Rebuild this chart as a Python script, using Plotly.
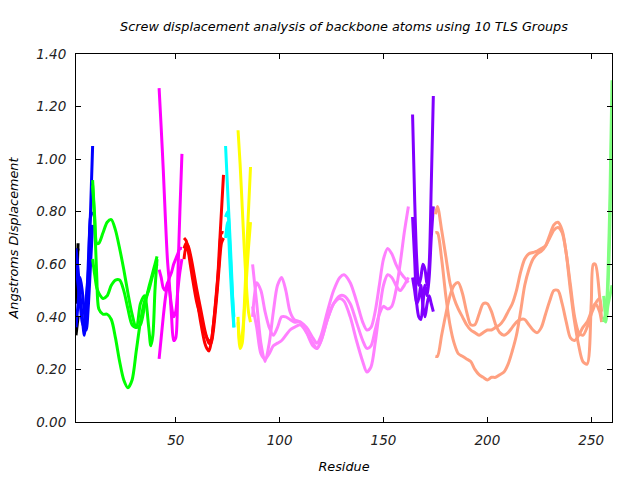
import plotly.graph_objects as go

# residue numbers and screw displacement (A) for each TLS group, three curves per group
black_res = [2, 3]
black_a = [0.62, 0.66]
black_b = [0.33, 0.40]
black_c = [0.45, 0.68]

blue_res = [2, 3, 4, 5, 6, 7, 8, 9, 10]
blue_a = [0.66, 0.58, 0.48, 0.40, 0.33, 0.42, 0.62, 0.80, 1.05]
blue_b = [0.60, 0.52, 0.45, 0.38, 0.36, 0.48, 0.58, 0.78, 0.80]
blue_c = [0.36, 0.45, 0.55, 0.50, 0.42, 0.35, 0.45, 0.60, 0.75]

green_res = [10, 11, 12, 13, 15, 17, 19, 21, 23, 25, 27, 29, 31, 33, 35, 37, 38, 39, 40, 41]
green_a = [0.92, 0.78, 0.68, 0.68, 0.72, 0.76, 0.77, 0.73, 0.66, 0.58, 0.49, 0.41, 0.36, 0.37,
           0.44, 0.51, 0.54, 0.57, 0.60, 0.63]
green_b = [0.62, 0.56, 0.51, 0.49, 0.47, 0.48, 0.52, 0.54, 0.54, 0.50, 0.43, 0.37, 0.36, 0.45,
           0.48, 0.36, 0.29, 0.33, 0.50, 0.62]
green_c = [0.90, 0.76, 0.55, 0.43, 0.41, 0.41, 0.39, 0.32, 0.23, 0.16, 0.13, 0.16, 0.27, 0.38,
           0.46, 0.50, 0.53, 0.56, 0.58, 0.60]

magenta_res = [42, 43, 44, 45, 46, 47, 48, 49, 50, 51, 52, 53]
magenta_a = [1.27, 1.12, 0.96, 0.78, 0.62, 0.52, 0.40, 0.31, 0.32, 0.55, 0.80, 1.02]
magenta_b = [0.24, 0.32, 0.40, 0.47, 0.52, 0.55, 0.57, 0.60, 0.62, 0.64, 0.66, 0.66]
magenta_c = [0.58, 0.55, 0.51, 0.50, 0.53, 0.50, 0.44, 0.40, 0.42, 0.50, 0.57, 0.62]

red_res = [54, 55, 56, 57, 58, 60, 62, 64, 65, 66, 67, 68, 70, 71, 72, 73]
red_a = [0.70, 0.69, 0.66, 0.62, 0.58, 0.48, 0.38, 0.30, 0.28, 0.27, 0.30, 0.36, 0.52, 0.66, 0.80, 0.94]
red_b = [0.62, 0.67, 0.65, 0.60, 0.55, 0.46, 0.40, 0.34, 0.32, 0.31, 0.31, 0.36, 0.53, 0.62, 0.72, 0.72]
red_c = [0.66, 0.68, 0.67, 0.64, 0.60, 0.51, 0.43, 0.35, 0.32, 0.30, 0.30, 0.34, 0.50, 0.60, 0.68, 0.70]

cyan_res = [74, 75, 76, 77, 78]
cyan_a = [1.05, 0.88, 0.72, 0.55, 0.36]
cyan_b = [0.78, 0.80, 0.68, 0.52, 0.40]
cyan_c = [0.70, 0.76, 0.62, 0.47, 0.36]

yellow_res = [80, 81, 82, 83, 84, 85, 86]
yellow_a = [1.11, 0.98, 0.82, 0.66, 0.52, 0.42, 0.38]
yellow_b = [0.40, 0.28, 0.30, 0.44, 0.62, 0.80, 0.97]
yellow_c = [0.38, 0.30, 0.33, 0.42, 0.54, 0.66, 0.76]

pink_res = [87, 89, 91, 93, 95, 97, 99, 101, 103, 105, 107, 110, 113, 116, 118, 120, 123, 126,
            129, 131, 134, 137, 140, 142, 144, 146, 148, 150, 152, 154, 156, 158, 160, 162]
pink_a = [0.60, 0.45, 0.30, 0.23, 0.30, 0.42, 0.52, 0.55, 0.50, 0.42, 0.39, 0.38, 0.36, 0.32,
          0.30, 0.33, 0.42, 0.50, 0.55, 0.56, 0.53, 0.46, 0.38, 0.35, 0.36, 0.42, 0.52, 0.62,
          0.66, 0.64, 0.60, 0.57, 0.55, 0.53]
pink_b = [0.40, 0.53, 0.50, 0.42, 0.36, 0.33, 0.36, 0.40, 0.40, 0.39, 0.38, 0.38, 0.34, 0.29,
          0.28, 0.31, 0.39, 0.45, 0.48, 0.48, 0.45, 0.38, 0.31, 0.28, 0.29, 0.35, 0.41, 0.44,
          0.43, 0.44, 0.50, 0.60, 0.72, 0.82]
pink_c = [0.44, 0.36, 0.26, 0.24, 0.26, 0.29, 0.30, 0.31, 0.33, 0.35, 0.36, 0.37, 0.34, 0.30,
          0.28, 0.31, 0.39, 0.45, 0.47, 0.46, 0.40, 0.31, 0.23, 0.19, 0.21, 0.30, 0.42, 0.52,
          0.56, 0.55, 0.52, 0.50, 0.52, 0.55]

purple_res = [164, 165, 166, 167, 168, 169, 170, 171, 172, 173, 174]
purple_a = [1.17, 0.85, 0.62, 0.52, 0.55, 0.60, 0.58, 0.52, 0.60, 0.90, 1.24]
purple_b = [0.78, 0.62, 0.45, 0.40, 0.39, 0.45, 0.52, 0.48, 0.55, 0.70, 0.82]
purple_c = [0.55, 0.50, 0.45, 0.47, 0.52, 0.44, 0.40, 0.45, 0.48, 0.45, 0.42]

salmon_res = [175, 176, 178, 180, 182, 184, 186, 188, 190, 192, 194, 196, 198, 200, 202, 204,
              206, 208, 210, 212, 214, 216, 218, 220, 222, 224, 226, 228, 230, 232, 234, 236,
              238, 240, 242, 244, 246, 248, 250, 251, 252, 254, 255]
salmon_a = [0.79, 0.82, 0.73, 0.63, 0.53, 0.47, 0.43, 0.40, 0.37, 0.35, 0.34, 0.33, 0.34, 0.35,
            0.35, 0.36, 0.37, 0.39, 0.42, 0.45, 0.50, 0.57, 0.62, 0.64, 0.645, 0.65, 0.66, 0.67,
            0.70, 0.73, 0.74, 0.72, 0.64, 0.52, 0.40, 0.34, 0.33, 0.36, 0.41, 0.43, 0.45, 0.47, 0.42]
salmon_b = [0.72, 0.72, 0.62, 0.48, 0.37, 0.30, 0.26, 0.25, 0.24, 0.23, 0.20, 0.18, 0.17, 0.16,
            0.17, 0.17, 0.18, 0.19, 0.22, 0.27, 0.33, 0.42, 0.52, 0.58, 0.62, 0.64, 0.65, 0.67,
            0.71, 0.75, 0.76, 0.73, 0.64, 0.50, 0.38, 0.29, 0.23, 0.22, 0.45, 0.60, 0.60, 0.48, 0.39]
salmon_c = [0.25, 0.25, 0.33, 0.41, 0.48, 0.52, 0.53, 0.49, 0.42, 0.37, 0.37, 0.41, 0.45, 0.45,
            0.42, 0.37, 0.34, 0.33, 0.34, 0.36, 0.38, 0.39, 0.39, 0.37, 0.35, 0.34, 0.36, 0.41,
            0.46, 0.50, 0.50, 0.45, 0.38, 0.32, 0.31, 0.33, 0.36, 0.38, 0.42, 0.44, 0.45, 0.42, 0.38]

lime_res = [256, 257, 258, 259, 260]
lime_a = [0.48, 0.40, 0.55, 0.85, 1.30]
lime_b = [0.38, 0.42, 0.50, 0.75, 1.18]
lime_c = [0.40, 0.38, 0.44, 0.48, 0.52]

groups = [
    ("#000000", black_res, [black_a, black_b, black_c]),
    ("#0000ff", blue_res, [blue_a, blue_b, blue_c]),
    ("#00ff00", green_res, [green_a, green_b, green_c]),
    ("#ff00ff", magenta_res, [magenta_a, magenta_b, magenta_c]),
    ("#ff0000", red_res, [red_a, red_b, red_c]),
    ("#00ffff", cyan_res, [cyan_a, cyan_b, cyan_c]),
    ("#ffff00", yellow_res, [yellow_a, yellow_b, yellow_c]),
    ("#ff80ff", pink_res, [pink_a, pink_b, pink_c]),
    ("#8000ff", purple_res, [purple_a, purple_b, purple_c]),
    ("#ffa080", salmon_res, [salmon_a, salmon_b, salmon_c]),
    ("#80ff80", lime_res, [lime_a, lime_b, lime_c]),
]

fig = go.Figure()
for color, res, curves in groups:
    for vals in curves:
        fig.add_trace(go.Scatter(
            x=res, y=vals, mode="lines",
            line=dict(color=color, width=3, shape="spline", smoothing=0.8),
            showlegend=False, hoverinfo="skip"
        ))

font = dict(family="DejaVu Sans", size=12.8, color="#000000", style="italic")
axis_common = dict(
    showline=True, linecolor="#000000", linewidth=1, mirror="ticks",
    ticks="inside", ticklen=5, tickcolor="#000000", showgrid=False, zeroline=False,
    tickfont=dict(family="DejaVu Sans", size=13.5, color="#222222", style="italic"),
    ticklabelstandoff=6, automargin=False,
)

fig.update_layout(
    width=640, height=480,
    margin=dict(l=76, r=28, t=54, b=58),
    paper_bgcolor="white", plot_bgcolor="white",
    font=font,
    title=dict(text="Screw displacement analysis of backbone atoms using 10 TLS Groups",
               x=0.5375, xanchor="center", y=0.944, yanchor="middle", font=font),
    xaxis=dict(range=[2, 260], tickvals=[50, 100, 150, 200, 250],
               title=dict(text="Residue", font=font, standoff=14), **axis_common),
    yaxis=dict(range=[0, 1.4], tick0=0, dtick=0.2, tickformat=".2f",
               title=dict(text="Angstroms Displacement", font=font, standoff=14), **axis_common),
)

fig.write_html("out.html", config={"displayModeBar": False},
               post_script="document.body.style.margin='0';")
